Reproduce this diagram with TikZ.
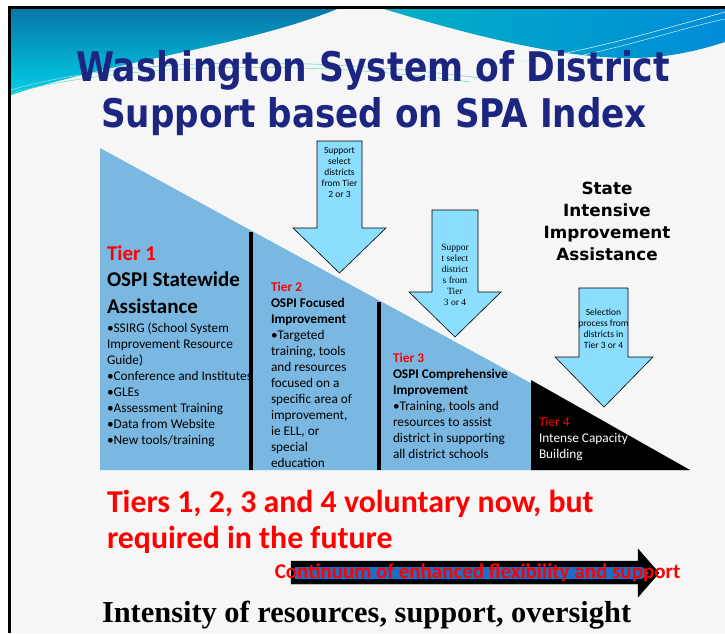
\documentclass[tikz,border=0pt]{standalone}
\usepackage{fontspec}
\setmainfont{Carlito}
\newfontfamily\headfont{DejaVu Sans}
\newfontfamily\serifarrow{Liberation Serif}
\newfontfamily\timesfont{Liberation Serif}
\usepackage{graphicx}

\definecolor{tierblue}{RGB}{122,184,226}
\definecolor{arrowcyan}{RGB}{140,222,255}
\definecolor{titlenavy}{RGB}{28,38,128}
\definecolor{slidegray}{RGB}{246,246,246}
\definecolor{tealdark}{RGB}{8,118,168}
\definecolor{tealcyan}{RGB}{0,208,232}
\definecolor{tealright}{RGB}{0,176,196}
\definecolor{bluetop}{RGB}{0,140,215}
\definecolor{streak}{RGB}{140,210,228}
\definecolor{contblue}{RGB}{30,110,200}

\begin{document}
\begin{tikzpicture}[x=1pt,y=-1pt,
    every node/.style={inner sep=0pt,outer sep=0pt},
    tiertext/.style={anchor=base west,align=left,font=\fontsize{13.3}{16}\selectfont},
    arrowtext/.style={anchor=base,align=center,font=\fontsize{9.5}{11}\selectfont},
    arrowbox/.style={fill=arrowcyan,draw=black,line width=0.6pt},
    divider/.style={line width=4pt,black}]
    \useasboundingbox (0,0) rectangle (725,633);

    % Slide background and frame:
    \fill[white] (0,0) rectangle (725,633);
    \fill[slidegray] (10,8) rectangle (725,633);
    \shade[top color=tealdark,bottom color=tealcyan]
        (11,9) -- (337,9) .. controls (250,45) and (110,62) .. (11,95) -- cycle;
    \shade[left color=tealright,right color=bluetop]
        (384,9) -- (725,9) -- (725,42) .. controls (700,50) and (670,58) .. (630,58)
        .. controls (560,58) and (470,35) .. (384,9) -- cycle;
    % thin streaks across the wave
    \draw[streak,line width=0.7pt] (11,90) .. controls (120,58) and (300,55) .. (480,78);
    \draw[streak!70!green,line width=0.5pt] (11,93) .. controls (130,62) and (310,60) .. (470,82);
    \draw[white!60!streak,line width=0.6pt] (520,62) .. controls (600,48) and (660,30) .. (725,12);
    \draw[white!60!streak,line width=0.5pt] (560,60) .. controls (630,46) and (690,26) .. (725,19);
    \draw[line width=3pt] (9.5,633) -- (9.5,7.5) -- (725,7.5);

    % Title:
    \node[anchor=base west,text=titlenavy,font=\headfont\bfseries] (title1) at (76,81)
        {\resizebox{594pt}{31pt}{Washington System of District}};
    \node[anchor=base west,text=titlenavy,font=\headfont\bfseries] (title2) at (101,127)
        {\resizebox{546pt}{30pt}{Support based on SPA Index}};

    % The tier triangle:
    \fill[tierblue] (100,148) -- (690,470) -- (100,470) -- cycle;
    \fill[black] (531,380) -- (690,470) -- (531,470) -- cycle;

    % Tier 1 (clipped at the first divider); base = last line
    \begin{scope}
    \clip (100,140) rectangle (250,472);
    \node[anchor=base west,align=left,font=\fontsize{21}{26.5}\selectfont\bfseries] (tier1)
        at (107,313) {\textcolor{red}{Tier 1}\\OSPI Statewide\\Assistance};
    \node[tiertext] (tier1list) at (107,444)
        {•SSIRG (School System\\Improvement Resource\\Guide)\\•Conference and Institutes\\
         •GLEs\\•Assessment Training\\•Data from Website\\•New tools/training};
    \end{scope}

    % Tier 2:
    \node[tiertext] (tier2) at (271,467)
        {\textcolor{red}{\bfseries Tier 2}\\\bfseries OSPI Focused\\\bfseries Improvement\\
         •Targeted\\training, tools\\and resources\\focused on a\\specific area of\\
         improvement,\\ie ELL, or\\special\\education};

    % Tier 3:
    \node[tiertext] (tier3) at (393,458)
        {\textcolor{red}{\bfseries Tier 3}\\\bfseries OSPI Comprehensive\\\bfseries Improvement\\
         •Training, tools and\\resources to assist\\district in supporting\\all district schools};

    % Tier 4:
    \node[tiertext,text=white] (tier4) at (539,458)
        {\textcolor{red}{Tier 4}\\Intense Capacity\\Building};

    % Dividers:
    \draw[divider] (251,232) -- (251,470);
    \draw[divider] (379,302) -- (379,470);

    % Down arrows:
    \filldraw[arrowbox] (317,141) -- (362,141) -- (362,228) -- (386,228) -- (339.5,273)
        -- (293,228) -- (317,228) -- cycle;
    \node[arrowtext] (arrowAtext) at (339.5,197)
        {Support\\select\\districts\\from Tier\\2 or 3};

    \filldraw[arrowbox] (432,210) -- (478,210) -- (478,292) -- (501,292) -- (455,337)
        -- (409,292) -- (432,292) -- cycle;
    \node[arrowtext,font=\serifarrow\fontsize{9.5}{11}\selectfont] (arrowBtext) at (455,305)
        {Suppor\\t select\\district\\s from\\Tier\\3 or 4};

    \filldraw[arrowbox] (579,288) -- (628,288) -- (628,357) -- (653,357) -- (604,407)
        -- (555,357) -- (579,357) -- cycle;
    \node[arrowtext] (arrowCtext) at (603.5,348)
        {Selection\\process from\\districts in\\Tier 3 or 4};

    % State level heading:
    \node[anchor=base,align=center,font=\headfont\bfseries\fontsize{16.8}{22}\selectfont] (state)
        at (607,260) {State\\Intensive\\Improvement\\Assistance};

    % Bottom notes:
    \node[anchor=base west,align=left,text=red,font=\fontsize{31.8}{36}\selectfont\bfseries] (voluntary)
        at (107,548) {Tiers 1, 2, 3 and 4 voluntary now, but\\required in the future};

    \filldraw[black] (291,561) -- (638,561) -- (638,549) -- (659,573) -- (638,597)
        -- (638,584) -- (291,584) -- cycle;
    \fill[contblue] (295,567) -- (642,567) -- (649,573) -- (642,579) -- (295,579) -- cycle;
    \node[anchor=base,text=red,font=\fontsize{21}{23}\selectfont\bfseries] (continuum)
        at (477.5,578) {Continuum of enhanced flexibility and support};

    \node[anchor=base west,font=\timesfont\bfseries\fontsize{30.4}{34}\selectfont] (intensity)
        at (102,622) {Intensity of resources, support, oversight};
\end{tikzpicture}
\end{document}
